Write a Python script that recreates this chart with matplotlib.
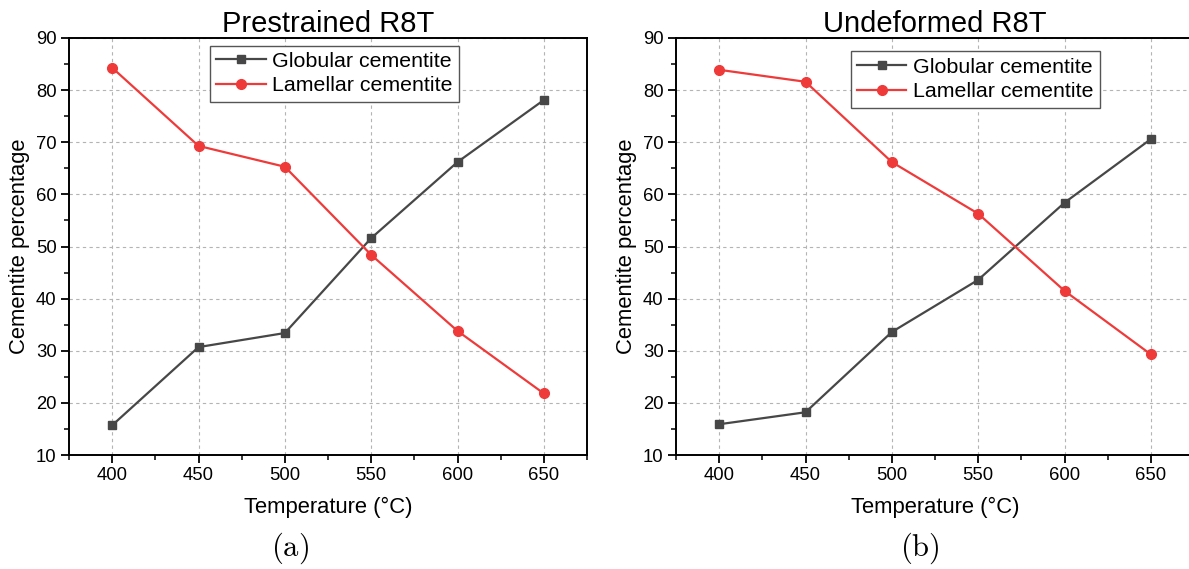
import matplotlib
matplotlib.use("Agg")
import matplotlib.pyplot as plt
from matplotlib.ticker import MultipleLocator

plt.rcParams['font.family'] = ['Liberation Sans', 'DejaVu Sans']
plt.rcParams['mathtext.fontset'] = 'cm'

temps = [400, 450, 500, 550, 600, 650]

# prestrained sample
pre_globular = [15.7, 30.7, 33.4, 51.6, 66.2, 78.1]
pre_lamellar = [84.3, 69.3, 65.3, 48.4, 33.8, 21.8]

# undeformed sample
und_globular = [15.9, 18.2, 33.6, 43.6, 58.4, 70.6]
und_lamellar = [83.9, 81.6, 66.2, 56.3, 41.5, 29.3]

titles = ["Prestrained R8T", "Undeformed R8T"]
captions = ["(a)", "(b)"]

GRAY = "#474747"
RED = "#ef3a3a"

W, H = 1189, 569
fig = plt.figure(figsize=(W / 100, H / 100), dpi=100)

# axes boxes in pixels: left, top, right, bottom
boxes = [(69, 38, 587, 455), (676, 38, 1194, 455)]
legend_pos = [(0.272, 0.982), (0.337, 0.968)]
caption_x = [290, 920]

panels = [(pre_globular, pre_lamellar), (und_globular, und_lamellar)]

for i, (glob, lam) in enumerate(panels):
    l, t, r, b = boxes[i]
    ax = fig.add_axes([l / W, (H - b) / H, (r - l) / W, (b - t) / H])

    ax.plot(temps, glob, color=GRAY, lw=1.6, marker='s', ms=6.3,
            label="Globular cementite", zorder=3)
    ax.plot(temps, lam, color=RED, lw=1.6, marker='o', ms=7,
            label="Lamellar cementite", zorder=3)

    ax.set_xlim(375, 675)
    ax.set_ylim(10, 90)
    ax.xaxis.set_major_locator(MultipleLocator(50))
    ax.xaxis.set_minor_locator(MultipleLocator(25))
    ax.yaxis.set_major_locator(MultipleLocator(10))
    ax.yaxis.set_minor_locator(MultipleLocator(5))

    ax.grid(True, which='major', color='#b4b4b4', ls=(0, (3, 3)), lw=0.8)
    ax.set_axisbelow(True)

    for s in ax.spines.values():
        s.set_linewidth(1.4)
        s.set_color('black')

    ax.tick_params(which='major', direction='out', length=6, width=1.3,
                   labelsize=13.3, top=False, right=False, pad=3)
    ax.tick_params(which='minor', direction='out', length=3.5, width=1.1,
                   top=False, right=False)

    ax.set_title(titles[i], fontsize=21, pad=4)
    ax.set_xlabel("Temperature (°C)", fontsize=15.8, labelpad=9)
    ax.set_ylabel("Cementite percentage", fontsize=15.8, labelpad=4)

    leg = ax.legend(loc='upper left', bbox_to_anchor=legend_pos[i],
                    borderaxespad=0, fontsize=15.4, fancybox=False,
                    framealpha=1, edgecolor='#555555', handlelength=2.3,
                    handletextpad=0.3, borderpad=0.3, labelspacing=0.25)
    leg.get_frame().set_linewidth(1.0)

    fig.text(caption_x[i] / W, (H - 548) / H, r"$\mathrm{" + captions[i] + "}$",
             fontsize=22, ha='center', va='center')

fig.savefig("out.png", dpi=100)
